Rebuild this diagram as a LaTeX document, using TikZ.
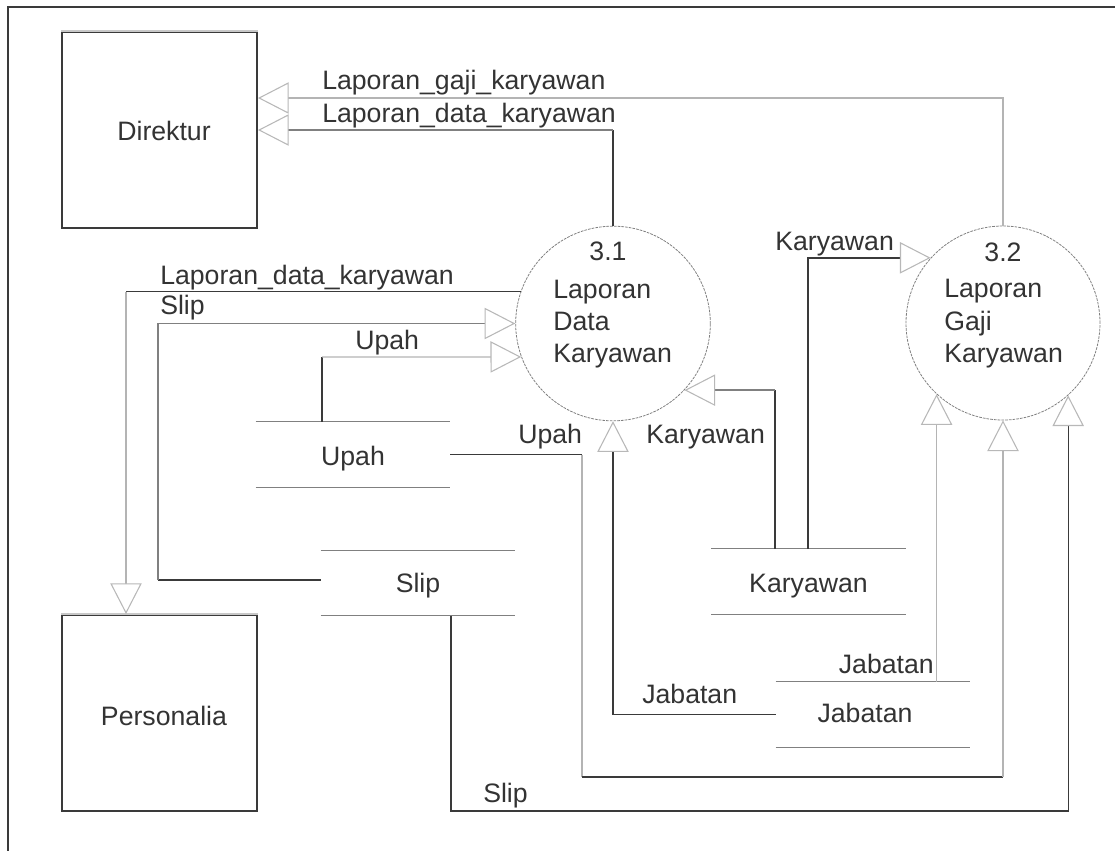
\documentclass[tikz,border=0pt]{standalone}
\usepackage{fontspec}
\setmainfont{Liberation Sans}
\usetikzlibrary{arrows.meta}
\definecolor{inkdark}{HTML}{3A3A3A}
\definecolor{inkmid}{HTML}{808080}
\definecolor{inklight}{HTML}{B4B4B4}
\definecolor{tipgray}{HTML}{B8B8B8}
\definecolor{textgray}{HTML}{333333}
\definecolor{edgetop}{HTML}{C8C8C8}
\begin{document}
\begin{tikzpicture}[x=0.75pt,y=-0.75pt,
  font=\fontsize{20}{24}\selectfont, text=textgray,
  opentri/.tip={Triangle[length=23pt,width=23.5pt,color=tipgray,fill=white,line width=0.8pt]},
  entity/.style={draw=inkdark,line width=1.5pt,minimum width=146.25pt,minimum height=147pt,inner sep=0pt},
  process/.style={circle,draw=inkmid,line width=0.6pt,dash pattern=on 2pt off 0.8pt,minimum size=146pt,inner sep=0pt},
  store/.style={minimum width=145.5pt,minimum height=48.75pt,inner sep=0pt},
  storeline/.style={draw=inkmid,line width=1pt},
  darkln/.style={draw=inkdark,line width=1pt},
  midln/.style={draw=inkmid,line width=1pt},
  lightln/.style={draw=inklight,line width=1pt},
  lbl/.style={inner sep=0pt,anchor=base west},
  lblc/.style={inner sep=0pt,anchor=base}]
\useasboundingbox (0,0) rectangle (1115,851);

% frame (top and left)
\draw[draw=inkdark,line width=1.2pt] (1115,7) -- (8,7) -- (8,851);

% external entities
\node[entity] (direktur) at (159.5,130) {};
\node[lblc] (direkturtxt) at (164,140) {Direktur};
\draw[edgetop,line width=1.5pt] (direktur.north west) -- (direktur.north east);
\node[entity] (personalia) at (159.5,713) {};
\node[lblc] (personaliatxt) at (164,725) {Personalia};
\draw[edgetop,line width=1.5pt] (personalia.north west) -- (personalia.north east);

% processes
\node[process] (p31) at (613,323.5) {};
\node[lblc] (p31num) at (608,260) {3.1};
\node[lbl] (p31a) at (553,298) {Laporan};
\node[lbl] (p31b) at (553,330) {Data};
\node[lbl] (p31c) at (553,362) {Karyawan};

\node[process,minimum size=145.5pt] (p32) at (1003,323) {};
\node[lblc] (p32num) at (1003,261) {3.2};
\node[lbl] (p32a) at (944,297) {Laporan};
\node[lbl] (p32b) at (944,330) {Gaji};
\node[lbl] (p32c) at (944,362) {Karyawan};

% data stores
\node[store] (upah) at (353,454.5) {};
\node[lblc] (upahtxt) at (353,465) {Upah};
\draw[storeline] (upah.north west) -- (upah.north east) (upah.south west) -- (upah.south east);
\node[store] (slip) at (418,583) {};
\node[lblc] (sliptxt) at (418,592) {Slip};
\draw[storeline] (slip.north west) -- (slip.north east) (slip.south west) -- (slip.south east);
\node[store] (karyawan) at (808.5,581.5) {};
\node[lblc] (karyawantxt) at (808.5,592) {Karyawan};
\draw[storeline] (karyawan.north west) -- (karyawan.north east) (karyawan.south west) -- (karyawan.south east);
\node[store] (jabatan) at (873,714.5) {};
\node[lblc] (jabatantxt) at (865,722) {Jabatan};
\draw[storeline] (jabatan.north west) -- (jabatan.north east) (jabatan.south west) -- (jabatan.south east);

% bend points
\coordinate (yGaji) at (0,98);
\coordinate (yData) at (0,130);
\coordinate (bPers) at (126,292);
\coordinate (bSlipL) at (158,580);
\coordinate (bUpah) at (322,357);
\coordinate (bUpahR) at (582,777);
\coordinate (bK1) at (775,0);
\coordinate (bK2) at (808,0);
\coordinate (bSlipB) at (451,811);

% 3.2 -> Direktur
\draw[lightln,-opentri] (p32.north) -- (p32.north |- yGaji) -- (direktur.east |- yGaji);
\node[lbl] (lgaji) at (322,89) {Laporan\_gaji\_karyawan};

% 3.1 -> Direktur
\draw[darkln] (p31.north) -- (p31.north |- yData);
\draw[midln,-opentri] (p31.north |- yData) -- (direktur.east |- yData);
\node[lbl] (ldata) at (322,122) {Laporan\_data\_karyawan};

% 3.1 -> Personalia
\draw[darkln] (p31.161.15) -- (p31.161.15 -| bPers);
\draw[lightln,-opentri] (p31.161.15 -| bPers) -- (bPers |- personalia.north);
\node[lbl] (ldatap) at (160,284) {Laporan\_data\_karyawan};

% Slip -> 3.1
\draw[darkln] (slip.west |- bSlipL) -- (bSlipL);
\draw[midln,-opentri] (bSlipL) -- (bSlipL |- p31.180) -- (p31.180);
\node[lbl] (lslip) at (160,314) {Slip};

% Upah -> 3.1
\draw[darkln] (upah.north -| bUpah) -- (bUpah);
\draw[lightln,-opentri] (bUpah) -- (p31.200.1);
\node[lbl] (lupah) at (355,349) {Upah};

% Upah -> 3.2
\draw[darkln] (upah.east) -- (upah.east -| bUpahR);
\draw[lightln] (upah.east -| bUpahR) -- (bUpahR);
\draw[darkln] (bUpahR) -- (bUpahR -| p32.south);
\draw[lightln,-opentri] (bUpahR -| p32.south) -- (p32.south);
\node[lbl] (lupah2) at (518,443) {Upah};

% Jabatan -> 3.1
\draw[darkln,-opentri] (jabatan.west) -| (p31.south);
\node[lbl] (ljab1) at (642,703) {Jabatan};

% Jabatan -> 3.2
\draw[lightln,-opentri] (jabatan.north -| p32.227.9) -- (p32.227.9);
\node[lbl,anchor=base east] (ljab2) at (934,673) {Jabatan};

% Karyawan -> 3.1
\draw[darkln] (karyawan.north -| bK1) -- (bK1 |- p31.317.8);
\draw[midln,-opentri] (bK1 |- p31.317.8) -- (p31.317.8);
\node[lbl] (lkar1) at (646,443) {Karyawan};

% Karyawan -> 3.2
\draw[darkln,-opentri] (karyawan.north -| bK2) |- (p32.138.7);
\node[lbl] (lkar2) at (775,250) {Karyawan};

% Slip -> 3.2
\draw[darkln,-opentri] (slip.south -| bSlipB) -- (bSlipB) -- (bSlipB -| p32.312.1) -- (p32.312.1);
\node[lbl] (lslip2) at (483,802) {Slip};
\end{tikzpicture}
\end{document}
